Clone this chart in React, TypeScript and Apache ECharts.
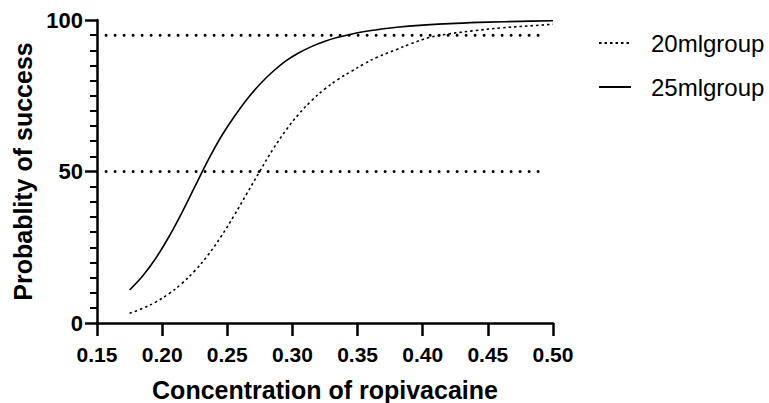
import React, { useEffect, useRef } from "react";
import * as echarts from "echarts";

const xTicks = [0.15, 0.2, 0.25, 0.3, 0.35, 0.4, 0.45, 0.5];
const yTicks = [0, 50, 100];

const group20X = [0.175, 0.185, 0.195, 0.205, 0.215, 0.225, 0.235, 0.245, 0.255, 0.265, 0.275, 0.285, 0.295, 0.305, 0.315, 0.325, 0.335, 0.345, 0.355, 0.365, 0.38, 0.39, 0.405, 0.42, 0.44, 0.46, 0.48, 0.5];
const group20Y = [3.2, 4.8, 6.9, 9.6, 13.0, 17.2, 22.3, 28.4, 35.3, 42.7, 50.1, 57.3, 63.6, 69.0, 73.5, 77.3, 80.4, 83.0, 85.5, 87.7, 90.3, 92.0, 94.2, 95.4, 96.5, 97.4, 98.0, 98.6];

const group25X = [0.175, 0.185, 0.195, 0.205, 0.215, 0.225, 0.235, 0.245, 0.255, 0.265, 0.275, 0.285, 0.295, 0.305, 0.315, 0.325, 0.335, 0.35, 0.365, 0.38, 0.4, 0.425, 0.45, 0.475, 0.5];
const group25Y = [10.9, 15.5, 21.3, 28.3, 36.3, 44.9, 53.5, 61.3, 67.9, 73.8, 78.8, 83.0, 86.5, 89.2, 91.3, 93.0, 94.3, 95.8, 96.8, 97.6, 98.3, 98.9, 99.3, 99.55, 99.75];

const refLevels = [50, 95];
const refXRange = [0.157, 0.492];

const seriesNames = ["20mlgroup", "25mlgroup"];

export default function App() {
  const ref = useRef<HTMLDivElement>(null);
  useEffect(() => {
    if (!ref.current) return;
    const chart = echarts.init(ref.current, null, { renderer: "svg" });
    const font = "'Liberation Sans', Arial, Helvetica, sans-serif";
    const zip = (xs: number[], ys: number[]) => xs.map((x, i) => [x, ys[i]]);
    const refSeries = refLevels.map((lvl) => ({
      type: "line",
      name: "ref" + lvl,
      data: refXRange.map((x) => [x, lvl]),
      symbol: "none",
      silent: true,
      lineStyle: { color: "#000", width: 3, type: [0, 9], cap: "round" },
    }));
    chart.setOption({
      animation: false,
      backgroundColor: "#fff",
      grid: { left: 97, right: 216, top: 20, bottom: 80, containLabel: false, outerBoundsMode: "none" },
      legend: {
        data: seriesNames,
        orient: "vertical",
        left: 598,
        top: 31,
        padding: 0,
        itemWidth: 32,
        itemHeight: 14,
        itemGap: 20,
        itemStyle: { opacity: 0 },
        textStyle: { fontFamily: font, fontSize: 24, color: "#000", padding: [0, 0, 0, 15] },
      },
      xAxis: {
        type: "value",
        min: 0.15,
        max: 0.5,
        interval: 0.05,
        name: "Concentration of ropivacaine",
        nameLocation: "middle",
        nameGap: 54,
        nameTextStyle: { fontFamily: font, fontSize: 25, fontWeight: "bold", color: "#000" },
        axisLine: { show: true, onZero: false, lineStyle: { color: "#000", width: 2.5 } },
        axisTick: { show: true, length: 13, lineStyle: { color: "#000", width: 2.5 } },
        axisLabel: {
          margin: 21,
          fontFamily: font,
          fontSize: 21,
          fontWeight: "bold",
          color: "#000",
          formatter: (v: number) => {
            const t = xTicks.find((k) => Math.abs(k - v) < 1e-6);
            return t !== undefined ? t.toFixed(2) : "";
          },
        },
        splitLine: { show: false },
      },
      yAxis: {
        type: "value",
        min: 0,
        max: 100,
        interval: 50,
        name: "Probablity of success",
        nameLocation: "middle",
        nameGap: 62,
        nameTextStyle: { fontFamily: font, fontSize: 25, fontWeight: "bold", color: "#000" },
        axisLine: { show: true, lineStyle: { color: "#000", width: 2.5 } },
        axisTick: { show: true, length: 12, lineStyle: { color: "#000", width: 2.5 } },
        minorTick: { show: true, splitNumber: 10, length: 7, lineStyle: { color: "#000", width: 2 } },
        axisLabel: {
          margin: 14,
          fontFamily: font,
          fontSize: 22,
          fontWeight: "bold",
          color: "#000",
          formatter: (v: number) => (yTicks.includes(v) ? String(v) : ""),
        },
        splitLine: { show: false },
      },
      series: [
        ...refSeries,
        {
          type: "line",
          name: seriesNames[0],
          data: zip(group20X, group20Y),
          smooth: 0.4,
          symbol: "none",
          lineStyle: { color: "#000", width: 1.6, type: [2.5, 3] },
          itemStyle: { color: "#000" },
        },
        {
          type: "line",
          name: seriesNames[1],
          data: zip(group25X, group25Y),
          smooth: 0.4,
          symbol: "none",
          lineStyle: { color: "#000", width: 1.6, type: "solid" },
          itemStyle: { color: "#000" },
        },
      ],
    });
    return () => chart.dispose();
  }, []);
  return <div ref={ref} style={{ position: "fixed", left: 0, top: 0, width: 769, height: 403 }} />;
}
